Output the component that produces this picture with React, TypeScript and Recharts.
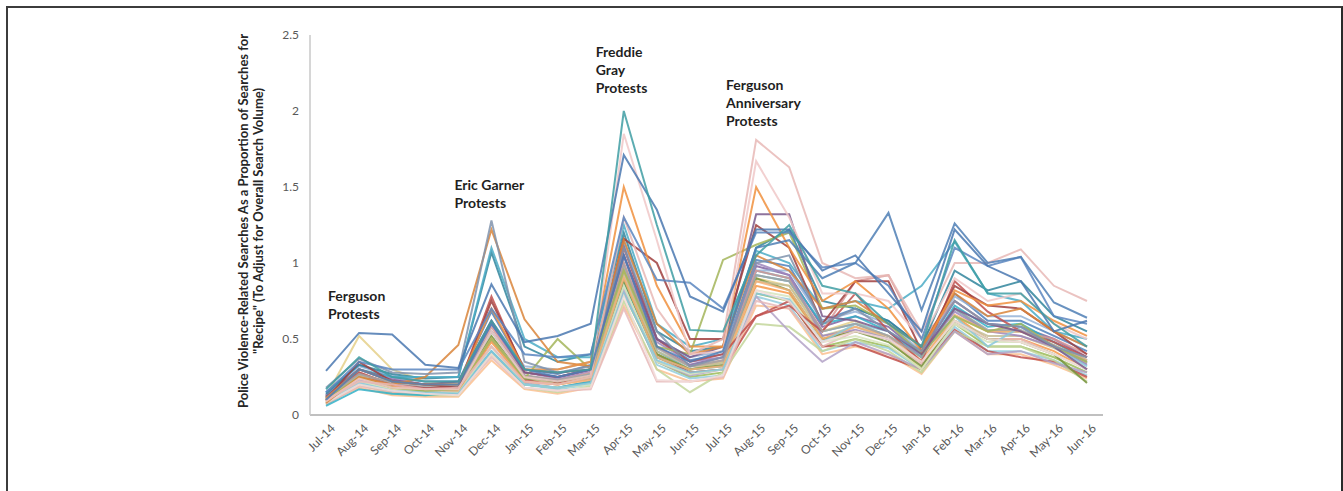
import React from 'react';
import { LineChart, Line, XAxis, YAxis, ReferenceDot } from 'recharts';

const months = ['Jul-14','Aug-14','Sep-14','Oct-14','Nov-14','Dec-14','Jan-15','Feb-15','Mar-15','Apr-15','May-15','Jun-15','Jul-15','Aug-15','Sep-15','Oct-15','Nov-15','Dec-15','Jan-16','Feb-16','Mar-16','Apr-16','May-16','Jun-16'];
const yTicks = [0, 0.5, 1, 1.5, 2, 2.5];
const yLabelLines = ['Police Violence-Related Searches As a Proportion of Searches for', '"Recipe" (To Adjust for Overall Search Volume)'];

const lineA = [0.29,0.54,0.53,0.33,0.31,0.86,0.48,0.52,0.6,1.71,1.35,0.78,0.68,1.22,1.22,0.95,1.05,0.8,0.55,1.22,0.98,0.88,0.55,0.62];
const lineB = [0.17,0.38,0.25,0.22,0.22,0.62,0.3,0.28,0.3,2.0,1.25,0.56,0.55,1.05,1.25,0.85,0.8,0.6,0.45,1.15,0.8,0.8,0.6,0.45];
const lineC = [0.18,0.37,0.28,0.27,0.28,1.28,0.35,0.28,0.32,1.1,0.55,0.32,0.38,1.0,1.05,0.6,0.7,0.55,0.42,0.75,0.6,0.58,0.45,0.38];
const lineD = [0.1,0.3,0.22,0.2,0.2,0.6,0.3,0.25,0.3,1.05,0.45,0.35,0.42,1.1,1.15,0.9,1.0,1.33,0.69,1.26,1.0,1.04,0.74,0.64];
const lineE = [0.1,0.22,0.2,0.17,0.18,0.45,0.22,0.2,0.25,1.3,0.7,0.4,0.5,1.81,1.63,1.0,0.9,0.92,0.55,1.0,1.0,1.09,0.85,0.75];
const lineE2 = [0.09,0.24,0.18,0.17,0.17,0.55,0.25,0.22,0.26,1.85,1.15,0.4,0.42,1.67,1.3,0.8,0.8,0.75,0.5,0.9,0.75,0.8,0.6,0.5];
const lineF = [0.08,0.25,0.2,0.25,0.46,1.22,0.63,0.35,0.32,1.15,0.6,0.4,0.45,1.05,0.95,0.7,0.75,0.6,0.45,0.8,0.65,0.7,0.55,0.45];
const lineG = [0.11,0.3,0.22,0.2,0.2,0.7,0.3,0.3,0.35,1.5,0.85,0.45,0.45,1.5,1.1,0.75,0.88,0.7,0.42,0.82,0.72,0.75,0.62,0.52];
const lineH = [0.12,0.3,0.23,0.2,0.22,0.62,0.28,0.25,0.3,1.05,0.5,0.38,0.45,1.32,1.32,0.65,0.62,0.55,0.4,0.7,0.6,0.55,0.45,0.3];
const lineI = [0.1,0.25,0.18,0.16,0.17,0.5,0.24,0.5,0.3,0.95,0.45,0.4,1.02,1.12,1.2,0.7,0.72,0.6,0.4,0.65,0.55,0.6,0.45,0.35];
const lineJ = [0.1,0.35,0.22,0.2,0.18,0.75,0.3,0.28,0.3,1.16,1.0,0.5,0.5,1.25,1.1,0.6,0.88,0.88,0.42,0.85,0.72,0.7,0.55,0.4];
const lineK = [0.15,0.35,0.3,0.3,0.3,0.7,0.4,0.38,0.4,1.3,0.89,0.87,0.7,1.2,1.2,0.97,1.0,0.85,0.5,1.1,0.98,1.04,0.65,0.6];
const lineL = [0.12,0.3,0.25,0.25,0.25,1.1,0.5,0.38,0.38,1.25,0.6,0.45,0.5,1.08,1.0,0.7,0.75,0.7,0.85,1.14,0.8,0.75,0.55,0.5];
const lineM = [0.14,0.33,0.27,0.24,0.25,1.07,0.45,0.35,0.4,1.2,0.55,0.42,0.45,1.1,1.22,0.75,0.7,0.62,0.45,0.95,0.82,0.88,0.65,0.55];
const lineB1 = [0.07,0.2,0.15,0.13,0.13,0.4,0.2,0.18,0.22,0.8,0.35,0.25,0.28,0.8,0.75,0.45,0.5,0.45,0.3,0.6,0.45,0.45,0.38,0.28];
const lineB2 = [0.09,0.24,0.17,0.15,0.15,0.48,0.22,0.2,0.25,0.9,0.38,0.28,0.3,0.85,0.8,0.5,0.55,0.5,0.35,0.65,0.5,0.5,0.42,0.3];
const lineB3 = [0.11,0.27,0.2,0.18,0.17,0.55,0.26,0.22,0.27,1.0,0.42,0.3,0.35,0.92,0.88,0.55,0.6,0.52,0.38,0.7,0.55,0.55,0.45,0.34];
const lineB4 = [0.13,0.3,0.22,0.2,0.2,0.6,0.28,0.25,0.3,1.05,0.45,0.33,0.38,0.98,0.92,0.58,0.65,0.58,0.4,0.75,0.6,0.58,0.5,0.38];
const lineB5 = [0.15,0.33,0.25,0.22,0.22,0.68,0.3,0.27,0.33,1.12,0.5,0.36,0.4,1.02,0.98,0.62,0.7,0.62,0.45,0.8,0.62,0.62,0.52,0.42];
const lineB6 = [0.08,0.18,0.13,0.12,0.12,0.36,0.17,0.14,0.18,0.72,0.3,0.22,0.24,0.72,0.7,0.4,0.45,0.4,0.27,0.55,0.4,0.4,0.33,0.24];
const lineB7 = [0.1,0.22,0.16,0.14,0.14,0.42,0.2,0.17,0.2,0.85,0.33,0.24,0.26,0.78,0.72,0.42,0.48,0.44,0.3,0.58,0.42,0.42,0.36,0.26];
const lineB8 = [0.09,0.26,0.19,0.16,0.16,0.5,0.23,0.21,0.24,0.95,0.4,0.28,0.3,0.65,0.75,0.45,0.46,0.38,0.3,0.56,0.42,0.38,0.35,0.25];
const lineB9 = [0.08,0.2,0.14,0.13,0.13,0.4,0.18,0.15,0.19,0.75,0.3,0.15,0.28,0.6,0.58,0.42,0.5,0.42,0.28,0.55,0.45,0.45,0.36,0.22];
const lineB10 = [0.1,0.23,0.18,0.15,0.15,0.45,0.21,0.18,0.22,0.82,0.35,0.26,0.3,0.78,0.55,0.35,0.48,0.4,0.3,0.55,0.4,0.42,0.34,0.28];
const lineB11 = [0.07,0.19,0.15,0.14,0.14,0.38,0.18,0.16,0.17,0.7,0.22,0.22,0.25,0.75,0.7,0.45,0.55,0.5,0.33,0.6,0.5,0.5,0.4,0.3];
const lineB12 = [0.12,0.52,0.3,0.22,0.2,0.5,0.25,0.2,0.25,0.95,0.4,0.3,0.35,0.9,0.85,0.55,0.62,0.5,0.3,0.65,0.55,0.55,0.45,0.35];
const lineB13 = [0.06,0.17,0.14,0.13,0.15,0.42,0.2,0.18,0.22,0.88,0.38,0.3,0.32,0.95,0.9,0.6,0.65,0.55,0.38,0.72,0.58,0.6,0.48,0.36];
const lineB14 = [0.1,0.25,0.18,0.16,0.17,0.52,0.24,0.22,0.26,0.88,0.4,0.3,0.33,0.9,0.82,0.5,0.55,0.48,0.32,0.62,0.5,0.48,0.4,0.21];
const lineB15 = [0.14,0.32,0.26,0.22,0.22,0.62,0.32,0.3,0.35,1.15,0.5,0.38,0.42,0.95,0.95,0.62,0.68,0.6,0.42,0.78,0.65,0.65,0.55,0.45];
const lineB16 = [0.11,0.26,0.22,0.2,0.18,0.5,0.25,0.2,0.24,0.92,0.42,0.32,0.34,0.88,0.85,0.52,0.58,0.5,0.35,0.62,0.52,0.52,0.44,0.34];
const lineB17 = [0.12,0.28,0.2,0.17,0.17,0.58,0.26,0.23,0.28,1.0,0.45,0.32,0.36,0.95,0.9,0.55,0.88,0.92,0.5,0.75,0.6,0.55,0.5,0.4];
const lineB18 = [0.13,0.3,0.24,0.2,0.19,0.6,0.28,0.24,0.29,1.05,0.48,0.35,0.38,1.0,0.92,0.52,0.56,0.5,0.4,0.68,0.55,0.52,0.45,0.33];
const lineB19 = [0.09,0.22,0.17,0.15,0.15,0.45,0.2,0.18,0.2,0.85,0.35,0.27,0.3,0.82,0.78,0.48,0.52,0.46,0.3,0.6,0.48,0.48,0.4,0.3];
const lineB20 = [0.1,0.25,0.19,0.17,0.16,0.5,0.22,0.2,0.23,0.9,0.38,0.3,0.32,0.88,0.82,0.5,0.58,0.52,0.36,0.66,0.55,0.55,0.46,0.36];
const lineB21 = [0.08,0.21,0.16,0.15,0.14,0.42,0.2,0.18,0.21,0.8,0.36,0.28,0.3,0.8,0.76,0.48,0.6,0.55,0.4,0.65,0.45,0.58,0.45,0.32];
const lineB22 = [0.12,0.28,0.2,0.18,0.18,0.78,0.28,0.25,0.3,1.1,0.5,0.35,0.4,0.65,0.72,0.55,0.8,0.55,0.35,0.88,0.68,0.55,0.48,0.38];
const lineB23 = [0.11,0.27,0.21,0.19,0.19,0.55,0.26,0.23,0.27,0.98,0.44,0.32,0.36,0.92,0.88,0.55,0.6,0.52,0.38,0.7,0.56,0.56,0.46,0.35];
const lineB24 = [0.08,0.2,0.16,0.14,0.13,0.4,0.18,0.16,0.18,0.78,0.23,0.22,0.26,0.82,0.75,0.48,0.55,0.5,0.35,0.62,0.5,0.48,0.4,0.3];

const seriesList = [
  { key: 'b1', values: lineB1, color: '#9bbb59' },
  { key: 'b2', values: lineB2, color: '#f79646' },
  { key: 'b3', values: lineB3, color: '#4bacc6' },
  { key: 'b4', values: lineB4, color: '#8064a2' },
  { key: 'b5', values: lineB5, color: '#4f81bd' },
  { key: 'b6', values: lineB6, color: '#fac090' },
  { key: 'b7', values: lineB7, color: '#93cddd' },
  { key: 'b8', values: lineB8, color: '#c0504d' },
  { key: 'b9', values: lineB9, color: '#c3d69b' },
  { key: 'b10', values: lineB10, color: '#b3a2c7' },
  { key: 'b11', values: lineB11, color: '#e6b9b8' },
  { key: 'b12', values: lineB12, color: '#e5d08a' },
  { key: 'b13', values: lineB13, color: '#31b0c8' },
  { key: 'b14', values: lineB14, color: '#77933c' },
  { key: 'b15', values: lineB15, color: '#95b3d7' },
  { key: 'b16', values: lineB16, color: '#c4bd97' },
  { key: 'b17', values: lineB17, color: '#d99694' },
  { key: 'b18', values: lineB18, color: '#9e86bd' },
  { key: 'b19', values: lineB19, color: '#d7e4bd' },
  { key: 'b20', values: lineB20, color: '#f5b078' },
  { key: 'b21', values: lineB21, color: '#8ac8da' },
  { key: 'b22', values: lineB22, color: '#c0504d' },
  { key: 'b23', values: lineB23, color: '#a5a5a5' },
  { key: 'b24', values: lineB24, color: '#f2dcdb' },
  { key: 'M', values: lineM, color: '#31859c' },
  { key: 'L', values: lineL, color: '#4bacc6' },
  { key: 'I', values: lineI, color: '#a3b55a' },
  { key: 'H', values: lineH, color: '#7a5a8c' },
  { key: 'J', values: lineJ, color: '#a0403e' },
  { key: 'F', values: lineF, color: '#d9853b' },
  { key: 'G', values: lineG, color: '#f0913e' },
  { key: 'C', values: lineC, color: '#8093ad' },
  { key: 'E2', values: lineE2, color: '#f0c8c8' },
  { key: 'E', values: lineE, color: '#e8b8b6' },
  { key: 'K', values: lineK, color: '#5b86c0' },
  { key: 'D', values: lineD, color: '#4f7fb5' },
  { key: 'A', values: lineA, color: '#4a78b0' },
  { key: 'B', values: lineB, color: '#3f9da3' },
];

const annotations = [
  { month: 'Jul-14', value: 0.75, lines: ['Ferguson', 'Protests'] },
  { month: 'Dec-14', value: 1.48, lines: ['Eric Garner', 'Protests'] },
  { month: 'Mar-15', value: 2.355, lines: ['Freddie', 'Gray', 'Protests'] },
  { month: 'Jul-15', value: 2.14, lines: ['Ferguson', 'Anniversary', 'Protests'] },
];
const annotationDx = [2, -37, 5, 3];

const data = months.map((m, i) => {
  const row: Record<string, any> = { month: m };
  seriesList.forEach((s) => { row[s.key] = s.values[i]; });
  return row;
});

const FONT = 'Lato, "Open Sans", sans-serif';

const XTick = (props: any) => {
  const { x, y, payload } = props;
  const tx = x + 10;
  const ty = y + 6;
  return (
    <text x={tx} y={ty} transform={`rotate(-45 ${tx} ${ty})`} textAnchor="end" fontSize={12} fill="#595959" fontFamily={FONT}>
      {payload.value}
    </text>
  );
};

const YLabel = (props: any) => {
  const vb = props.viewBox || {};
  const cy = 221;
  const x1 = vb.x + 13;
  const x2 = vb.x + 28;
  return (
    <g>
      <text x={x1} y={cy} transform={`rotate(-90 ${x1} ${cy})`} textAnchor="middle" dominantBaseline="central" fontSize={13} fontWeight={700} fill="#262626" fontFamily={FONT}>{yLabelLines[0]}</text>
      <text x={x2} y={cy} transform={`rotate(-90 ${x2} ${cy})`} textAnchor="middle" dominantBaseline="central" fontSize={13} fontWeight={700} fill="#262626" fontFamily={FONT}>{yLabelLines[1]}</text>
    </g>
  );
};

const makeAnnotation = (lines: string[], dx: number) => (props: any) => {
  const vb = props.viewBox || {};
  const x = (vb.x ?? 0) + (vb.width ?? 0) / 2 + dx;
  const y = (vb.y ?? 0) + (vb.height ?? 0) / 2;
  return (
    <text x={x} y={y} fontSize={14} fontWeight={700} fill="#1f1f1f" fontFamily={FONT}>
      {lines.map((ln, i) => (
        <tspan key={i} x={x} dy={i === 0 ? 0 : 18}>{ln}</tspan>
      ))}
    </text>
  );
};

export default function App() {
  return (
    <div style={{ position: 'absolute', left: 0, top: 0, width: 1343, height: 491, background: '#fff', overflow: 'hidden' }}>
      <div style={{ position: 'absolute', left: 6, top: 6, width: 1333, height: 520, borderTop: '2px solid #3c3c3c', borderLeft: '2px solid #3c3c3c', borderRight: '2px solid #2a2a2a' }} />
      <div style={{ position: 'absolute', left: 0, top: 0 }}>
        <LineChart width={1343} height={491} data={data} margin={{ top: 35, right: 240, left: 230, bottom: 16 }}>
          <XAxis
            dataKey="month"
            interval={0}
            height={60}
            padding={{ left: 16, right: 16 }}
            tickLine={false}
            axisLine={{ stroke: '#c0c0c0', strokeWidth: 2 }}
            tick={<XTick />}
          />
          <YAxis
            domain={[0, 2.5]}
            ticks={yTicks}
            width={80}
            interval={0}
            tickLine={false}
            tickMargin={5}
            axisLine={{ stroke: '#c8c8c8', strokeWidth: 1.5 }}
            tick={{ fontSize: 12, fill: '#595959', fontFamily: FONT }}
            tickFormatter={(v: number) => String(v)}
            label={{ content: <YLabel /> }}
          />
          {seriesList.map((s) => (
            <Line
              key={s.key}
              dataKey={s.key}
              stroke={s.color}
              strokeWidth={2}
              strokeOpacity={0.85}
              dot={false}
              activeDot={false}
              isAnimationActive={false}
            />
          ))}
          {annotations.map((a, i) => (
            <ReferenceDot
              key={a.lines.join(' ')}
              x={a.month}
              y={a.value}
              r={0}
              fill="none"
              stroke="none"
              ifOverflow="visible"
              label={{ content: makeAnnotation(a.lines, annotationDx[i]) }}
            />
          ))}
        </LineChart>
      </div>
    </div>
  );
}
